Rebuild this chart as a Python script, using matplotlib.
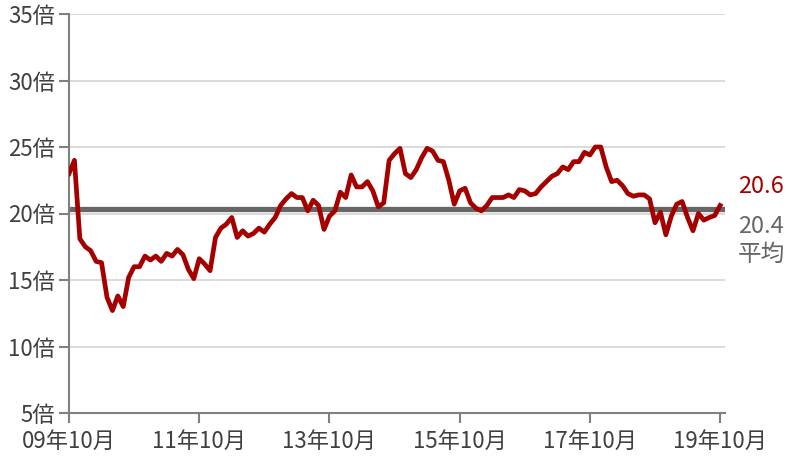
import matplotlib.pyplot as plt
import numpy as np

plt.rcParams['font.family'] = ['Noto Sans CJK JP', 'DejaVu Sans']

# monthly PER, 2009/10 - 2019/10
per = [23.0, 24.0, 18.1, 17.5, 17.2, 16.4, 16.3, 13.7, 12.7, 13.8,
       13.0, 15.2, 16.0, 16.0, 16.8, 16.5, 16.8, 16.4, 17.0, 16.8,
       17.3, 16.9, 15.8, 15.1, 16.6, 16.2, 15.7, 18.2, 18.9, 19.2,
       19.7, 18.2, 18.7, 18.3, 18.5, 18.9, 18.6, 19.2, 19.7, 20.6,
       21.1, 21.5, 21.2, 21.2, 20.2, 21.0, 20.6, 18.8, 19.8, 20.2,
       21.6, 21.2, 22.9, 22.0, 22.0, 22.4, 21.7, 20.5, 20.8, 24.0,
       24.5, 24.9, 23.0, 22.7, 23.3, 24.2, 24.9, 24.7, 24.0, 23.9,
       22.5, 20.7, 21.7, 21.9, 20.8, 20.4, 20.2, 20.6, 21.2, 21.2,
       21.2, 21.4, 21.2, 21.8, 21.7, 21.4, 21.5, 22.0, 22.4, 22.8,
       23.0, 23.5, 23.3, 23.9, 23.9, 24.6, 24.4, 25.0, 25.0, 23.5,
       22.4, 22.5, 22.1, 21.5, 21.3, 21.4, 21.4, 21.1, 19.3, 20.1,
       18.4, 19.8, 20.7, 20.9, 19.7, 18.7, 20.0, 19.5, 19.7, 19.85,
       20.6]
avg = 20.35
avg_label = '20.4'
last_label = '20.6'
xtick_labels = ['09年10月', '11年10月', '13年10月', '15年10月', '17年10月', '19年10月']
yticks = [5, 10, 15, 20, 25, 30, 35]

red = '#a50000'
gray = '#666666'
axc = '#808080'
txt = '#404040'

fig = plt.figure(figsize=(8.11, 4.62), dpi=100)
ax = fig.add_axes([69/811, 49/462, (725-69)/811, (413-14)/462])

x = np.arange(len(per))
ax.set_xlim(0, 120.9)
ax.set_ylim(5, 35)

for y in yticks[1:]:
    ax.axhline(y, color='#d4d4d4', lw=1.2, zorder=1)
ax.axhline(avg, color=gray, lw=3.8, zorder=2)
ax.plot(x, per, color=red, lw=3.4, zorder=3, solid_joinstyle='round')

ax.set_yticks(yticks)
ax.set_yticklabels([f'{v}倍' for v in yticks])
ax.set_xticks(np.arange(0, 121, 24))
ax.set_xticklabels(xtick_labels)
ax.tick_params(axis='both', colors=axc, labelcolor=txt, labelsize=16,
               length=7, width=1.5, direction='out')
ax.tick_params(axis='y', pad=3)
ax.tick_params(axis='x', pad=5)

for s in ['top', 'right']:
    ax.spines[s].set_visible(False)
for s in ['left', 'bottom']:
    ax.spines[s].set_color(axc)
    ax.spines[s].set_linewidth(1.5)

ax.text(1.02, per[-1] + 1.4, last_label, transform=ax.get_yaxis_transform(),
        color=red, fontsize=17, va='center', ha='left')
ax.text(1.02, avg - 1.3, avg_label, transform=ax.get_yaxis_transform(),
        color=gray, fontsize=17, va='center', ha='left')
ax.text(1.02, avg - 3.4, '平均', transform=ax.get_yaxis_transform(),
        color=gray, fontsize=17, va='center', ha='left')

fig.savefig('out.png', dpi=100)
